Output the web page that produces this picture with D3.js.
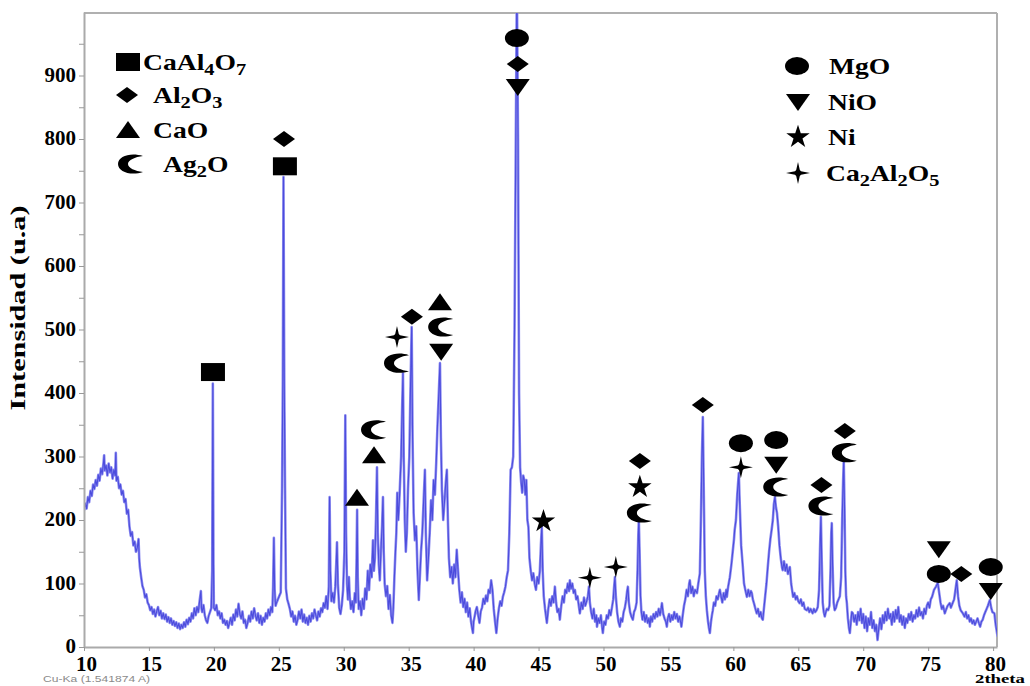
<!DOCTYPE html>
<html><head><meta charset="utf-8">
<script src="https://cdnjs.cloudflare.com/ajax/libs/d3/7.8.5/d3.min.js"></script>
<style>body{margin:0;background:#fff;} svg{display:block;}</style>
</head><body><svg id="c" width="1030" height="686"></svg>
<script>
// ---- XRD pattern (2theta, intensity) ----
const pattern10to20 = [[10.0,215],[10.1,226],[10.2,218],[10.3,236],[10.4,228],[10.5,246],[10.6,238],[10.7,256],[10.8,249],[10.9,263],[11.0,254],[11.1,271],[11.2,262],[11.3,281],[11.4,272],[11.5,290],[11.55,302],[11.6,278],[11.7,286],[11.8,270],[11.9,289],[12.0,275],[12.1,283],[12.2,265],[12.3,279],[12.4,270],[12.45,306],[12.5,262],[12.6,268],[12.7,250],[12.8,256],[12.9,240],[13.0,246],[13.1,228],[13.2,233],[13.3,210],[13.4,216],[13.5,190],[13.6,175],[13.7,181],[13.8,160],[13.9,166],[14.0,150],[14.1,156],[14.2,170],[14.25,140],[14.3,126],[14.4,110],[14.5,96],[14.6,90],[14.7,78],[14.8,83],[14.9,70],[15.0,66],[15.1,58],[15.2,63],[15.3,52],[15.4,59],[15.5,48],[15.6,56],[15.7,63],[15.8,50],[15.9,57],[16.0,45],[16.1,53],[16.2,44],[16.3,51],[16.4,40],[16.5,47],[16.6,38],[16.7,45],[16.8,35],[16.9,41],[17.0,33],[17.1,39],[17.2,30],[17.3,37],[17.4,28],[17.5,35],[17.6,30],[17.7,39],[17.8,32],[17.9,43],[18.0,36],[18.1,46],[18.2,40],[18.3,53],[18.4,45],[18.5,61],[18.6,50],[18.7,63],[18.8,55],[18.9,72],[19.0,88],[19.05,60],[19.1,55],[19.2,66],[19.3,50],[19.4,42],[19.5,38],[19.6,49],[19.7,55],[19.8,61],[19.87,120],[19.92,415],[19.97,130],[20.0,62]];
const pattern20to30 = [[20.1,58],[20.2,66],[20.3,50],[20.4,56],[20.5,45],[20.6,53],[20.7,38],[20.8,43],[20.9,35],[21.0,41],[21.1,30],[21.2,38],[21.3,46],[21.4,35],[21.5,51],[21.6,42],[21.7,59],[21.8,48],[21.9,68],[22.0,52],[22.1,45],[22.2,56],[22.3,38],[22.4,43],[22.5,30],[22.6,38],[22.7,49],[22.8,40],[22.9,56],[23.0,45],[23.1,61],[23.2,50],[23.3,42],[23.4,53],[23.5,38],[23.6,49],[23.7,35],[23.8,46],[23.9,40],[24.0,53],[24.1,45],[24.2,59],[24.3,50],[24.4,63],[24.5,55],[24.56,95],[24.62,172],[24.68,90],[24.75,65],[24.85,71],[24.95,76],[25.05,81],[25.15,86],[25.25,250],[25.31,420],[25.36,740],[25.42,420],[25.48,250],[25.55,92],[25.65,75],[25.75,68],[25.85,60],[25.95,48],[26.05,56],[26.15,40],[26.25,49],[26.35,35],[26.45,43],[26.55,56],[26.65,45],[26.75,59],[26.85,40],[26.95,51],[27.05,38],[27.15,46],[27.25,35],[27.35,49],[27.45,40],[27.55,53],[27.65,45],[27.75,59],[27.85,50],[27.95,42],[28.05,56],[28.15,48],[28.25,61],[28.35,55],[28.45,69],[28.55,62],[28.65,80],[28.75,60],[28.85,95],[28.91,236],[28.97,120],[29.05,72],[29.15,85],[29.25,70],[29.35,95],[29.42,130],[29.48,165],[29.55,100],[29.65,62],[29.75,52],[29.85,66],[29.95,90],[30.05,150],[30.12,365],[30.18,180],[30.25,100]];
const pattern30to40 = [[30.32,75],[30.4,110],[30.46,80],[30.55,60],[30.65,72],[30.75,55],[30.85,85],[30.93,70],[30.98,130],[31.03,216],[31.08,110],[31.15,60],[31.25,72],[31.35,50],[31.45,76],[31.55,60],[31.65,92],[31.75,75],[31.85,120],[31.95,90],[32.05,130],[32.15,110],[32.25,168],[32.32,120],[32.4,140],[32.48,200],[32.56,283],[32.62,180],[32.7,130],[32.78,105],[32.86,150],[32.95,190],[33.02,236],[33.08,150],[33.15,100],[33.25,80],[33.35,96],[33.45,60],[33.55,82],[33.65,50],[33.75,38],[33.82,62],[33.9,110],[33.98,150],[34.05,180],[34.12,243],[34.2,200],[34.3,240],[34.42,300],[34.5,380],[34.56,431],[34.62,300],[34.7,200],[34.78,150],[34.86,180],[34.95,250],[35.05,300],[35.15,420],[35.23,504],[35.3,330],[35.38,211],[35.48,168],[35.58,190],[35.68,120],[35.78,74],[35.86,110],[35.95,150],[36.05,180],[36.15,230],[36.25,279],[36.32,180],[36.42,105],[36.52,140],[36.62,180],[36.72,231],[36.82,200],[36.92,263],[37.02,240],[37.12,290],[37.22,350],[37.32,400],[37.41,447],[37.48,330],[37.56,247],[37.66,200],[37.76,230],[37.86,260],[37.94,279],[38.02,200],[38.1,140],[38.2,110],[38.3,126],[38.4,100],[38.5,130],[38.6,110],[38.7,153],[38.8,120],[38.9,90],[39.0,70],[39.1,86],[39.2,63],[39.3,76],[39.4,55],[39.5,70],[39.6,48],[39.7,61],[39.8,40],[39.88,30],[39.95,22],[40.0,40]];
const pattern40to50 = [[40.05,45],[40.15,56],[40.25,63],[40.35,50],[40.45,38],[40.55,56],[40.65,62],[40.75,76],[40.85,68],[40.95,81],[41.05,72],[41.15,90],[41.25,85],[41.35,105],[41.45,90],[41.55,60],[41.65,40],[41.75,22],[41.85,45],[41.95,61],[42.05,72],[42.15,65],[42.25,79],[42.35,86],[42.45,95],[42.55,110],[42.65,121],[42.75,180],[42.85,279],[42.95,283],[43.05,300],[43.15,500],[43.25,800],[43.33,1050],[43.42,800],[43.5,400],[43.58,283],[43.66,260],[43.74,243],[43.82,270],[43.9,263],[43.98,240],[44.06,263],[44.14,200],[44.22,189],[44.3,140],[44.4,120],[44.5,105],[44.6,116],[44.7,100],[44.8,90],[44.9,110],[45.0,100],[45.1,120],[45.18,160],[45.25,189],[45.32,120],[45.4,80],[45.5,60],[45.64,38],[45.75,60],[45.85,75],[45.95,65],[46.05,80],[46.15,70],[46.26,95],[46.35,70],[46.45,55],[46.55,60],[46.64,43],[46.75,65],[46.85,80],[46.95,70],[47.05,90],[47.15,85],[47.25,100],[47.35,88],[47.41,105],[47.5,92],[47.6,100],[47.7,85],[47.8,90],[47.9,75],[48.0,80],[48.1,65],[48.18,53],[48.3,70],[48.4,60],[48.5,78],[48.6,65],[48.7,72],[48.8,80],[48.88,95],[48.95,70],[49.05,55],[49.15,45],[49.25,60],[49.35,40],[49.45,50],[49.5,32],[49.6,45],[49.7,38],[49.8,50],[49.9,30],[49.95,22]];
const pattern50to60 = [[50.05,40],[50.15,35],[50.25,50],[50.35,45],[50.45,58],[50.55,50],[50.65,62],[50.75,75],[50.82,95],[50.88,110],[50.95,80],[51.05,55],[51.15,40],[51.26,32],[51.35,45],[51.45,40],[51.55,55],[51.65,62],[51.75,75],[51.82,88],[51.88,95],[51.95,70],[52.05,55],[52.15,48],[52.26,43],[52.35,55],[52.45,60],[52.55,70],[52.62,120],[52.68,175],[52.72,200],[52.78,150],[52.85,80],[52.92,55],[53.0,43],[53.1,55],[53.2,40],[53.3,50],[53.4,38],[53.5,45],[53.57,32],[53.65,48],[53.75,40],[53.85,52],[53.95,45],[54.05,55],[54.15,48],[54.25,60],[54.35,50],[54.45,62],[54.5,69],[54.6,52],[54.7,45],[54.8,40],[54.88,32],[54.95,45],[55.05,52],[55.15,40],[55.25,50],[55.34,43],[55.45,55],[55.55,45],[55.65,52],[55.75,40],[55.85,48],[55.95,38],[56.0,32],[56.1,50],[56.2,65],[56.3,75],[56.4,90],[56.5,80],[56.6,100],[56.65,105],[56.75,85],[56.85,95],[56.95,80],[57.05,90],[57.2,85],[57.3,100],[57.42,116],[57.5,200],[57.58,300],[57.65,362],[57.72,250],[57.8,120],[57.88,80],[57.96,58],[58.05,40],[58.12,30],[58.19,22],[58.28,40],[58.35,50],[58.42,58],[58.5,70],[58.6,65],[58.7,80],[58.8,75],[58.9,85],[58.96,90],[59.05,80],[59.15,70],[59.25,85],[59.35,75],[59.45,90],[59.5,79],[59.6,95],[59.73,110],[59.85,130],[59.95,150]];
const pattern60to70 = [[60.05,170],[60.1,184],[60.2,200],[60.3,240],[60.42,274],[60.5,220],[60.6,160],[60.73,126],[60.82,100],[60.92,90],[61.04,79],[61.15,90],[61.25,80],[61.35,88],[61.42,85],[61.5,75],[61.6,68],[61.7,60],[61.8,53],[61.9,60],[62.0,48],[62.1,55],[62.2,45],[62.27,43],[62.35,60],[62.45,80],[62.55,100],[62.65,126],[62.75,150],[62.85,170],[62.95,185],[63.04,200],[63.12,225],[63.2,236],[63.28,220],[63.36,211],[63.45,190],[63.55,160],[63.65,140],[63.75,125],[63.8,121],[63.9,135],[64.0,120],[64.1,130],[64.2,115],[64.35,126],[64.45,100],[64.6,79],[64.7,85],[64.8,75],[64.9,80],[65.0,72],[65.1,69],[65.2,75],[65.3,65],[65.4,70],[65.5,60],[65.65,58],[65.75,62],[65.85,55],[65.95,60],[66.1,53],[66.2,60],[66.3,55],[66.4,58],[66.5,63],[66.6,90],[66.68,160],[66.74,205],[66.8,140],[66.88,70],[66.96,55],[67.04,48],[67.12,55],[67.2,60],[67.3,58],[67.4,65],[67.48,120],[67.54,180],[67.58,195],[67.64,130],[67.72,70],[67.8,58],[67.9,62],[68.0,70],[68.1,75],[68.2,80],[68.3,110],[68.38,200],[68.45,260],[68.5,294],[68.56,220],[68.62,120],[68.68,80],[68.74,69],[68.82,45],[68.9,30],[68.97,22],[69.05,40],[69.12,55],[69.2,53],[69.3,40],[69.4,50],[69.5,35],[69.6,55],[69.7,42],[69.8,60],[69.9,38],[70.0,52]];
const pattern70to80 = [[70.1,30],[70.2,48],[70.3,25],[70.4,45],[70.5,35],[70.6,55],[70.7,30],[70.8,42],[70.9,25],[71.0,35],[71.1,11],[71.2,30],[71.3,45],[71.4,28],[71.5,50],[71.6,38],[71.7,55],[71.8,42],[71.9,60],[72.0,45],[72.1,52],[72.2,35],[72.3,55],[72.4,40],[72.5,58],[72.6,45],[72.7,63],[72.8,40],[72.9,50],[73.0,35],[73.1,48],[73.2,30],[73.3,45],[73.4,38],[73.5,52],[73.6,43],[73.7,55],[73.8,40],[73.9,50],[74.0,45],[74.1,58],[74.2,48],[74.3,62],[74.4,50],[74.5,55],[74.6,45],[74.7,60],[74.8,52],[74.9,65],[75.0,70],[75.1,62],[75.2,75],[75.3,79],[75.45,90],[75.6,95],[75.74,101],[75.85,85],[75.95,70],[76.05,60],[76.15,65],[76.28,53],[76.4,60],[76.5,65],[76.66,69],[76.75,62],[76.9,70],[77.0,75],[77.1,90],[77.2,105],[77.3,80],[77.4,65],[77.5,58],[77.67,53],[77.8,48],[77.9,55],[78.0,45],[78.1,50],[78.2,40],[78.3,45],[78.4,37],[78.5,42],[78.6,35],[78.7,40],[78.8,45],[78.9,38],[79.0,32],[79.1,40],[79.2,43],[79.3,50],[79.4,55],[79.5,60],[79.6,65],[79.75,74],[79.85,62],[79.95,55],[80.1,53],[80.2,35],[80.35,16]];

// ---- axes ticks ----
const xTicks = [10,15,20,25,30,35,40,45,50,55,60,65,70,75,80];
const yTicks = [0,50,100,150,200,250,300,350,400,450,500,550,600,650,700,750,800,850,900,950];
const yTickLabels = [0,100,200,300,400,500,600,700,800,900];

// ---- phases (legend order) ----
const phasesLeft = ["CaAl4O7","Al2O3","CaO","Ag2O"];
const phasesRight = ["MgO","NiO","Ni","Ca2Al2O5"];

// ---- peak identification marks: [2theta, intensity level, phase] ----
const peakMarks = [
 [19.93,433,"CaAl4O7"],
 [25.47,757,"CaAl4O7"],[25.40,800,"Al2O3"],
 [31.02,235,"CaO"],
 [32.33,302,"CaO"],[32.33,342,"Ag2O"],
 [34.10,447,"Ag2O"],[34.10,488,"Ca2Al2O5"],
 [35.25,520,"Al2O3"],
 [37.41,543,"CaO"],[37.50,504,"Ag2O"],[37.50,465,"NiO"],
 [43.33,959,"MgO"],[43.40,918,"Al2O3"],[43.40,882,"NiO"],
 [45.38,198,"Ni"],
 [48.95,109,"Ca2Al2O5"],
 [50.95,126,"Ca2Al2O5"],
 [52.80,211,"Ag2O"],[52.80,252,"Ni"],[52.80,293,"Al2O3"],
 [57.65,381,"Al2O3"],
 [60.58,283,"Ca2Al2O5"],[60.58,321,"MgO"],
 [63.30,252,"Ag2O"],[63.30,287,"NiO"],[63.30,326,"MgO"],
 [66.78,222,"Ag2O"],[66.78,255,"Al2O3"],
 [68.58,306,"Ag2O"],[68.58,340,"Al2O3"],
 [75.82,115,"MgO"],[75.82,154,"NiO"],
 [77.55,115,"Al2O3"],
 [79.82,88,"NiO"],[79.82,126,"MgO"]
];

// ================= drawing =================
const pattern = [].concat(pattern10to20, pattern20to30, pattern30to40, pattern40to50, pattern50to60, pattern60to70, pattern70to80);
const svg = d3.select("#c");
const serif = "'Liberation Serif','Times New Roman',serif";
const L = 84, R = 997, T = 13, B = 647;
const x = d3.scaleLinear().domain([10, 80.3]).range([L, R]);
const y = d3.scaleLinear().domain([0, 1000]).range([B, 12]);

const shapes = {
  "CaAl4O7": "M-12,-9H12V9H-12Z",
  "Al2O3": "M0,-8L11,0L0,8L-11,0Z",
  "CaO": "M0,-9L12,8L-12,8Z",
  "Ag2O": "M12,-8C0,-12,-13,-8,-13,0C-13,8,0,12,12,8C4,7,-3,4,-3,0C-3,-4,4,-7,12,-8Z",
  "MgO": "M-12,0A12,9,0,1,0,12,0A12,9,0,1,0,-12,0Z",
  "NiO": "M-12,-8L12,-8L0,9Z",
  "Ni": d3.symbol(d3.symbolStar).size(170)(),
  "Ca2Al2O5": "M-12,0L-3,-1.8L-1.8,-3L0,-11L1.8,-3L3,-1.8L12,0L3,1.8L1.8,3L0,11L-1.8,3L-3,1.8Z"
};

svg.append("defs").append("clipPath").attr("id","plotclip")
  .append("rect").attr("x",L).attr("y",T).attr("width",R-L).attr("height",B-T);

// frame top/right
svg.append("line").attr("x1",L).attr("x2",R).attr("y1",T).attr("y2",T).attr("stroke","#b0b0b0").attr("stroke-width",2);
svg.append("line").attr("x1",R).attr("x2",R).attr("y1",T).attr("y2",B).attr("stroke","#b0b0b0").attr("stroke-width",2);

// data line (light wide trace + darker core)
const lineGen = d3.line().x(d => x(d[0])).y(d => y(d[1]));
svg.append("path").datum(pattern)
  .attr("clip-path","url(#plotclip)")
  .attr("fill","none").attr("stroke","#8e8ef0")
  .attr("stroke-width",2.6).attr("stroke-linejoin","round")
  .attr("d", lineGen);
svg.append("path").datum(pattern)
  .attr("clip-path","url(#plotclip)")
  .attr("fill","none").attr("stroke","#2a2ad2").attr("stroke-opacity",0.65)
  .attr("stroke-width",1.1).attr("stroke-linejoin","round")
  .attr("d", lineGen);

// axes
const gy = svg.append("g").attr("transform",`translate(${L},0)`)
  .call(d3.axisLeft(y).tickValues(yTicks).tickSize(5).tickSizeOuter(0)
    .tickFormat(d => yTickLabels.includes(d) ? d : ""));
const gx = svg.append("g").attr("transform",`translate(0,${B})`)
  .call(d3.axisBottom(x).tickValues(xTicks).tickSize(4).tickSizeOuter(0));
[gx, gy].forEach(g => {
  g.select(".domain").attr("stroke","#aaaaaa").attr("stroke-width",2);
  g.selectAll(".tick line").attr("stroke","#999");
  g.selectAll(".tick text").attr("font-family",serif).attr("font-weight","bold")
    .attr("font-size",21).attr("fill","#000");
});
gx.selectAll(".tick text").attr("y",9).attr("dx",2);
gy.selectAll(".tick text").attr("x",-8).attr("dy","0.28em");

// axis titles
svg.append("text").attr("transform","translate(25,308) rotate(-90)")
  .attr("text-anchor","middle").attr("font-family",serif).attr("font-weight","bold")
  .attr("font-size",20).attr("textLength",205).attr("lengthAdjust","spacingAndGlyphs")
  .text("Intensidad (u.a)");
svg.append("text").attr("x",975).attr("y",683).attr("font-family",serif).attr("font-weight","bold")
  .attr("font-size",12.5).attr("textLength",50).attr("lengthAdjust","spacingAndGlyphs").text("2theta");
svg.append("text").attr("x",43).attr("y",682).attr("font-family","'Liberation Sans',Arial,sans-serif")
  .attr("font-size",9).attr("fill","#8a8a8a").attr("textLength",107).attr("lengthAdjust","spacingAndGlyphs")
  .text("Cu-Ka (1.541874 A)");

// peak marks
svg.append("g").selectAll("path").data(peakMarks).join("path")
  .attr("transform", d => `translate(${x(d[0])},${y(d[1])})`)
  .attr("d", d => shapes[d[2]]).attr("fill","#000");

// legend
function formula(sel, label) {
  let prevSub = false;
  label.match(/[A-Za-z]+|\d+/g).forEach(part => {
    const sub = /\d/.test(part);
    sel.append("tspan").attr("font-size", sub ? 17 : 23)
      .attr("dy", sub ? 5 : (prevSub ? -5 : 0)).text(part);
    prevSub = sub;
  });
}
const legLeft = {sx:[128,127,128,131], sy:[62,95,130,164], tx:[143,153,153,163]};
const legRight = {sx:[797,798,798,798], sy:[66,102,137,173], tx:[829,828,828,826]};
[[phasesLeft, legLeft],[phasesRight, legRight]].forEach(([names, pos]) => {
  names.forEach((n, i) => {
    svg.append("path").attr("transform",`translate(${pos.sx[i]},${pos.sy[i]})`).attr("d",shapes[n]).attr("fill","#000");
    const t = svg.append("text").attr("transform",`translate(${pos.tx[i]},${pos.sy[i]+8}) scale(1.2,1)`)
      .attr("font-family",serif).attr("font-weight","bold").attr("fill","#000");
    formula(t, n);
  });
});
</script></body></html>
